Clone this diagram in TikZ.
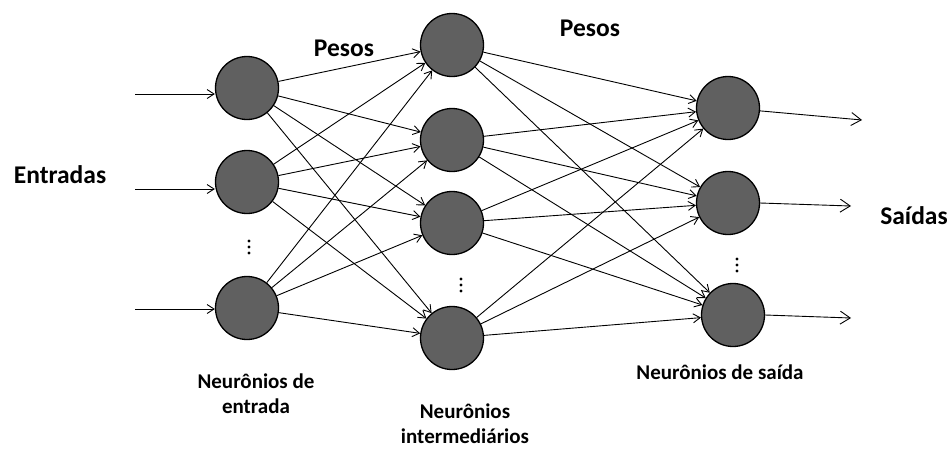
\documentclass[tikz,border=0pt]{standalone}
\usepackage{fontspec}
\setmainfont{Carlito}
\usepackage{tikz}
\usetikzlibrary{arrows.meta,calc}

\tikzset{
  neuron/.style={circle, draw=black, line width=1.3pt, fill=gray!75!black, minimum size=63pt, inner sep=0pt},
  link/.style={-{Straight Barb[length=7pt,width=9pt]}, line width=0.9pt, black},
  outlink/.style={-{Straight Barb[length=10pt,width=13pt]}, line width=0.9pt, black},
  biglabel/.style={font=\fontsize{25.5}{30}\selectfont\bfseries},
  smalllabel/.style={font=\fontsize{21}{25}\selectfont\bfseries, align=center, inner sep=0pt}
}
% three stacked dots
\newcommand{\stackdots}[1]{\foreach \k in {-6,0,6} \fill ($(#1)+(0,\k)$) circle (1.7pt);}

\begin{document}
\begin{tikzpicture}[x=1pt, y=-1pt]
    \useasboundingbox (0,0) rectangle (949,448);

    % Input layer
    \node[neuron] (i1) at (247,88) {};
    \node[neuron] (i2) at (247,182) {};
    \node[neuron] (i3) at (247,308) {};
    \coordinate (idots) at (249,247);

    % Hidden layer
    \node[neuron] (h1) at (452,45) {};
    \node[neuron] (h2) at (452,140) {};
    \node[neuron] (h3) at (452,223) {};
    \node[neuron] (h4) at (452,338) {};
    \coordinate (hdots) at (461,285);

    % Output layer
    \node[neuron] (o1) at (728,108) {};
    \node[neuron] (o2) at (728,203) {};
    \node[neuron] (o3) at (733,315) {};
    \coordinate (odots) at (737,265);

    \stackdots{idots}
    \stackdots{hdots}
    \stackdots{odots}

    % Inputs
    \coordinate (x1) at (135,94);
    \coordinate (x2) at (135,189);
    \coordinate (x3) at (135,309);
    \draw[link] (x1) -- (x1 -| i1.west);
    \draw[link] (x2) -- (x2 -| i2.west);
    \draw[link] (x3) -- (x3 -| i3.west);

    % Weights
    \foreach \a in {i1,i2,i3}
        \foreach \b in {h1,h2,h3,h4}
            \draw[link] (\a) -- (\b);
    \foreach \a in {h1,h2,h3,h4}
        \foreach \b in {o1,o2,o3}
            \draw[link] (\a) -- (\b);

    % Outputs
    \coordinate (y1) at (862,120);
    \coordinate (y2) at (851,206);
    \coordinate (y3) at (851,318);
    \draw[outlink] (o1) -- (y1);
    \draw[outlink] (o2.east) -- (y2);
    \draw[outlink] (o3.east) -- (y3);

    % Labels
    \node[biglabel] (entradas) at (60,175) {Entradas};
    \node[biglabel] (saidas) at (914,216) {Saídas};
    \node[biglabel] (pesos1) at (344,48) {Pesos};
    \node[biglabel] (pesos2) at (590,28) {Pesos};
    \node[smalllabel] (lblin) at (256,394) {Neurônios de\\entrada};
    \node[smalllabel] (lblhid) at (465,424) {Neurônios\\intermediários};
    \node[smalllabel] (lblout) at (720,372) {Neurônios de saída};
\end{tikzpicture}
\end{document}
